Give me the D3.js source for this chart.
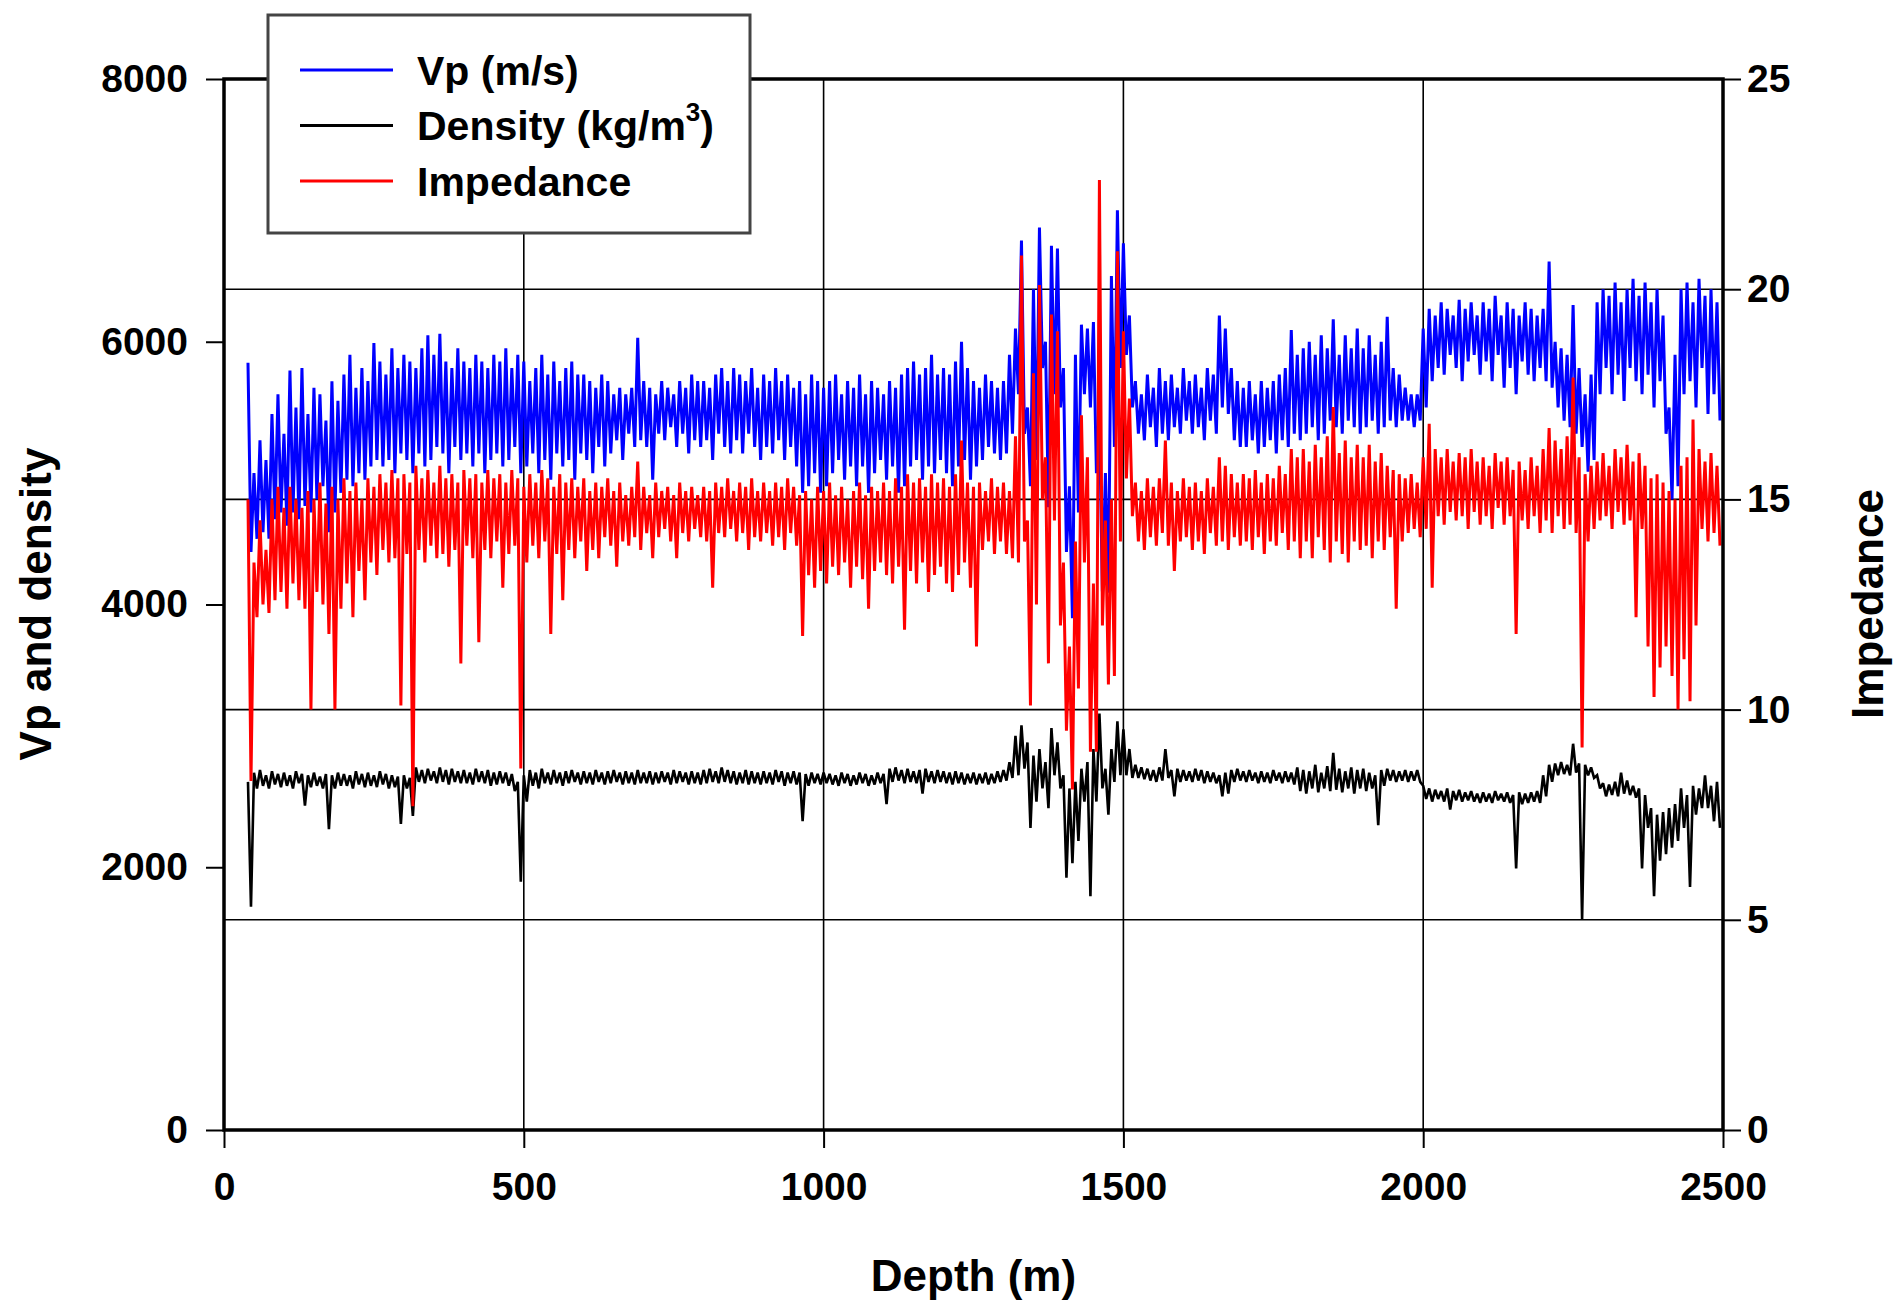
<!DOCTYPE html>
<html>
<head>
<meta charset="utf-8">
<script src="https://cdn.jsdelivr.net/npm/d3@7"></script>
<style>
  body { margin: 0; background: #fff; }
  svg { display: block; font-family: "Liberation Sans", Arial, sans-serif; font-weight: bold; }
</style>
</head>
<body>
<svg id="chart" width="1896" height="1306"></svg>
<script>
const binWidth = 10;
const binDepths = d3.range(40, 2500, binWidth);

const vpHigh = [
  5840,5000,5250,5100,5450,5600,
  5300,5780,5500,5800,5450,5650,5600,5400,5700,5550,
  5750,5900,5650,5800,5700,5990,5850,5750,5950,5800,
  5900,5850,5800,5950,6050,5900,6060,5850,5800,5950,
  5850,5800,5900,5850,5800,5900,5850,5950,5800,5900,
  5850,5700,5800,5900,5750,5850,5700,5800,5850,5750,
  5750,5700,5650,5750,5700,5600,5650,5600,5650,6030,
  5700,5650,5600,5700,5650,5600,5700,5650,5750,5700,
  5700,5650,5750,5800,5700,5800,5750,5700,5800,5650,
  5750,5700,5800,5700,5750,5650,5700,5600,5750,5700,
  5650,5700,5750,5600,5700,5650,5750,5600,5700,5650,
  5600,5700,5650,5750,5800,5850,5750,5800,5900,5750,
  5800,5750,5850,6000,5800,5700,5650,5750,5700,5650,
  5700,5900,6100,6770,5500,6400,6870,6000,6730,6710,
  5800,4900,5900,6130,6100,6150,5400,5000,6500,7000,
  6750,6200,5700,5600,5750,5650,5800,5700,5750,5650,
  5800,5700,5750,5650,5800,5750,6200,6100,5800,5700,
  5650,5700,5600,5700,5650,5700,5750,5800,6090,5900,
  5950,6000,5900,6050,5950,6170,5900,6050,5950,6100,
  5950,6050,5900,6000,6190,5800,5750,5650,5600,5600,
  6100,6250,6200,6300,6250,6200,6320,6250,6300,6200,
  6300,6250,6350,6200,6300,6250,6200,6300,6250,6200,
  6250,6610,6000,5950,5900,6280,5800,5600,5750,6300,
  6400,6350,6450,6300,6400,6480,6350,6450,6300,6400,
  6200,5500,5900,6400,6450,6300,6480,6350,6400,6300
];
const vpLow = [
  4400,4500,4550,4500,4650,4700,
  4600,4700,4650,4750,4700,4800,4900,4550,4700,4850,
  4950,4900,5000,4950,5050,5100,5050,5100,5000,5150,
  5100,5000,5150,5050,5100,5200,5150,5000,5200,5100,
  5150,5050,5150,5000,5100,5150,5050,5100,5200,5000,
  5050,5150,5000,5100,4950,5150,5050,5100,4950,5150,
  5100,5000,5200,5050,5150,5250,5100,5300,5200,5250,
  5200,4950,5300,5250,5350,5200,5300,5150,5250,5200,
  5250,5100,5300,5200,5150,5250,5150,5300,5200,5100,
  5200,5150,5250,5100,5200,5050,4850,4900,5000,4850,
  4900,5000,5100,4950,5050,4900,5050,4850,5000,5100,
  4950,5050,4850,4900,5050,5100,4950,5050,5000,5100,
  5000,4900,5050,5100,4950,5050,5100,5200,5150,5100,
  5150,5300,5600,5300,4900,5100,5800,4740,5600,5500,
  4400,3895,4700,5600,5500,5000,4100,4090,5200,5800,
  5900,5500,5300,5250,5350,5200,5300,5250,5350,5300,
  5400,5300,5350,5250,5400,5300,5500,5450,5250,5200,
  5200,5250,5150,5200,5250,5150,5250,5200,5300,5250,
  5300,5350,5250,5300,5400,5350,5300,5400,5350,5300,
  5350,5400,5300,5350,5400,5350,5400,5400,5350,5400,
  5500,5700,5800,5750,5900,5800,5700,5850,5900,5750,
  5850,5700,5900,5650,5800,5600,5850,5750,5700,5800,
  5700,5650,5500,5400,5350,5300,5200,5010,5100,5600,
  5800,5600,5750,5550,5800,5700,5600,5750,5500,5700,
  5300,4800,4900,5600,5700,5500,5800,5450,5600,5400
];

const densityHigh = [
  2650,2720,2740,2700,2730,2710,
  2720,2700,2730,2710,2700,2720,2690,2710,2700,2720,
  2710,2700,2730,2710,2720,2700,2730,2710,2700,2690,
  2700,2680,2760,2740,2750,2730,2760,2740,2750,2730,
  2740,2720,2750,2730,2740,2720,2730,2720,2710,2650,
  2700,2740,2720,2750,2720,2740,2720,2730,2740,2720,
  2730,2720,2740,2720,2730,2740,2720,2730,2720,2740,
  2720,2730,2720,2730,2720,2740,2730,2720,2730,2720,
  2740,2750,2730,2760,2740,2730,2720,2740,2730,2720,
  2730,2720,2740,2730,2720,2730,2720,2710,2720,2710,
  2720,2710,2700,2720,2710,2700,2720,2710,2700,2720,
  2710,2750,2760,2740,2750,2730,2740,2750,2730,2740,
  2730,2720,2730,2720,2710,2720,2710,2720,2710,2730,
  2740,2800,3000,3080,2950,2850,2900,2800,3060,2950,
  2700,2600,2650,2750,2800,2900,3170,2750,2900,3110,
  3050,2900,2780,2760,2750,2740,2760,2900,2740,2750,
  2740,2730,2750,2740,2730,2720,2700,2720,2740,2750,
  2730,2740,2720,2730,2720,2740,2720,2730,2720,2760,
  2740,2730,2780,2720,2770,2870,2750,2730,2760,2740,
  2750,2720,2700,2740,2750,2740,2730,2740,2730,2740,
  2620,2600,2590,2580,2600,2580,2590,2570,2580,2560,
  2570,2560,2580,2560,2570,2550,2570,2560,2570,2580,
  2700,2780,2790,2800,2780,2940,2790,2780,2760,2700,
  2640,2630,2650,2720,2660,2620,2600,2550,2450,2400,
  2420,2450,2480,2600,2550,2620,2600,2700,2620,2650
];
const densityLow = [
  1700,2600,2620,2600,2630,2610,
  2620,2600,2640,2470,2610,2620,2600,2290,2600,2620,
  2620,2600,2630,2610,2620,2610,2630,2600,2610,2330,
  2600,2390,2650,2640,2660,2640,2650,2630,2650,2640,
  2640,2630,2650,2640,2620,2630,2640,2620,2580,1890,
  2500,2620,2600,2640,2630,2640,2620,2640,2650,2630,
  2640,2630,2650,2630,2640,2650,2630,2640,2630,2640,
  2640,2630,2640,2650,2630,2640,2650,2630,2640,2630,
  2640,2650,2640,2650,2640,2630,2640,2630,2640,2630,
  2640,2630,2650,2620,2640,2630,2350,2620,2640,2630,
  2640,2630,2620,2640,2620,2630,2640,2620,2630,2640,
  2480,2650,2660,2640,2650,2640,2560,2650,2640,2650,
  2640,2630,2640,2630,2640,2630,2640,2630,2640,2650,
  2660,2680,2700,2750,2300,2500,2600,2450,2700,2600,
  1920,2030,2200,2500,1780,2500,2600,2400,2650,2700,
  2700,2680,2680,2670,2660,2650,2660,2680,2540,2650,
  2660,2650,2660,2640,2650,2640,2540,2560,2650,2660,
  2650,2660,2640,2650,2640,2660,2640,2650,2630,2580,
  2560,2600,2570,2600,2580,2590,2570,2600,2560,2600,
  2580,2600,2320,2620,2660,2650,2660,2650,2660,2650,
  2520,2500,2520,2500,2440,2510,2500,2510,2500,2490,
  2500,2490,2510,2500,2490,1990,2480,2490,2500,2490,
  2540,2650,2700,2710,2700,2720,1600,2700,2680,2600,
  2540,2550,2540,2560,2550,2530,1990,2300,1780,2050,
  2100,2150,2200,2300,1850,2400,2450,2450,2350,2300
];

const impedanceHigh = [
  15.0,13.5,14.5,13.8,15.0,15.3,
  14.8,15.3,15.0,14.8,15.2,15.0,15.4,14.9,15.3,15.0,
  15.5,15.2,15.4,15.0,15.5,15.3,15.6,15.4,15.7,15.5,
  15.6,15.4,15.8,15.5,15.7,15.4,15.8,15.5,15.6,15.4,
  15.7,15.5,15.6,15.4,15.7,15.5,15.6,15.4,15.7,15.5,
  15.3,15.6,15.4,15.7,15.5,15.3,15.6,15.4,15.5,15.3,
  15.5,15.2,15.4,15.3,15.5,15.2,15.4,15.1,15.3,15.9,
  15.3,15.1,15.4,15.2,15.3,15.1,15.4,15.2,15.3,15.1,
  15.3,15.2,15.4,15.3,15.5,15.2,15.4,15.3,15.5,15.2,
  15.4,15.2,15.4,15.3,15.5,15.3,15.1,15.2,15.0,15.3,
  15.2,15.4,15.1,15.3,15.0,15.2,15.4,15.1,15.3,15.2,
  15.4,15.2,15.5,15.3,15.6,15.4,15.5,15.3,15.6,15.4,
  15.5,15.3,15.6,16.4,15.4,15.3,15.4,15.2,15.5,15.3,
  15.4,15.2,16.5,20.8,14.5,18.0,20.1,16.0,19.4,19.0,
  13.5,11.5,14.0,17.0,16.0,13.0,22.6,14.5,15.0,20.9,
  19.0,17.4,15.4,15.2,15.5,15.3,15.5,16.4,15.4,15.2,
  15.5,15.3,15.4,15.2,15.5,15.3,16.0,15.8,15.6,15.4,
  15.6,15.5,15.7,15.4,15.6,15.5,15.8,15.6,16.2,16.0,
  16.2,15.9,16.3,16.0,16.5,17.2,16.1,16.4,16.0,16.3,
  16.0,16.3,15.9,16.1,15.8,15.7,15.6,15.5,15.6,15.4,
  16.0,16.8,16.2,16.0,16.2,15.9,16.1,16.0,16.2,15.9,
  16.0,15.8,16.1,15.9,16.0,15.7,15.9,15.7,16.0,15.8,
  16.2,16.7,16.4,16.2,16.5,17.9,16.0,15.6,15.8,15.9,
  16.1,15.8,16.2,16.0,16.3,15.9,16.1,15.8,15.5,15.6,
  15.4,15.2,15.0,15.8,16.0,16.9,16.2,15.9,16.1,15.8
];
const impedanceLow = [
  8.3,12.2,12.5,12.3,12.6,12.8,
  12.4,13.0,12.6,12.4,10.0,12.8,12.5,11.8,10.0,12.4,
  13.0,12.2,13.3,12.6,13.5,13.2,13.8,13.5,13.6,10.1,
  13.7,7.7,13.8,13.5,13.9,13.6,13.7,13.4,13.8,11.1,
  13.9,13.6,11.6,13.8,13.6,14.0,12.9,13.7,13.9,8.6,
  13.5,13.9,13.6,14.0,11.8,13.7,12.6,13.8,13.6,14.0,
  13.3,13.8,13.6,14.1,13.9,13.4,14.0,13.9,14.1,13.8,
  14.2,13.6,14.1,14.3,14.0,13.6,14.2,14.0,14.3,14.1,
  14.0,12.9,14.2,14.1,14.3,14.0,14.2,13.8,14.1,14.0,
  14.2,13.9,14.1,13.8,14.2,13.9,11.75,13.2,12.9,13.3,
  13.0,13.4,13.2,13.5,12.9,13.4,13.1,12.4,13.3,13.5,
  13.2,13.0,13.4,11.9,13.3,13.0,13.5,12.8,13.2,13.4,
  13.0,12.8,13.2,13.5,12.9,11.5,13.8,14.0,13.7,14.0,
  13.7,13.6,13.5,14.0,10.1,12.5,15.0,11.1,14.5,12.0,
  9.5,8.1,10.5,13.5,9.0,9.0,12.0,10.6,10.8,14.0,
  15.5,14.6,14.0,13.8,14.1,13.9,14.2,13.9,13.3,14.0,
  14.1,13.8,14.0,13.7,14.2,13.9,14.0,13.8,14.1,13.9,
  14.0,13.8,14.1,13.7,14.0,13.9,14.2,13.8,14.0,13.6,
  14.0,13.6,14.1,13.8,13.5,14.0,13.7,13.5,14.0,13.8,
  13.9,13.6,14.0,13.8,14.1,12.4,14.0,14.2,14.3,14.1,
  14.3,12.9,14.6,14.4,14.7,14.5,14.6,14.3,14.7,14.4,
  14.6,14.3,14.8,14.4,14.6,11.8,14.5,14.3,14.6,14.2,
  14.5,14.2,14.6,14.3,14.4,14.2,9.1,14.0,14.3,14.5,
  14.6,14.3,14.7,14.4,14.5,12.2,14.3,11.5,10.3,11.0,
  11.5,10.8,10.0,11.2,10.2,12.0,14.3,14.0,14.2,13.9
];

const depthTicks = [0, 500, 1000, 1500, 2000, 2500];
const leftTicks = [0, 2000, 4000, 6000, 8000];
const rightTicks = [0, 5, 10, 15, 20, 25];

const legendItems = [
  { label: 'Vp (m/s)', color: '#0000ff' },
  { label: 'Density (kg/m', sup: '3', tail: ')', color: '#000000' },
  { label: 'Impedance', color: '#ff0000' }
];

// ========= Setup ========= //
const svg = d3.select('#chart');
const plot = { left: 224, right: 1723, top: 79, bottom: 1130 };

const x = d3.scaleLinear().domain([0, 2500]).range([plot.left, plot.right]);
const yLeft = d3.scaleLinear().domain([0, 8000]).range([plot.bottom, plot.top]);
const yRight = d3.scaleLinear().domain([0, 25]).range([plot.bottom, plot.top]);

// ========= Grid ========= //
const grid = svg.append('g').attr('class', 'grid')
  .attr('stroke', '#000').attr('stroke-width', 1.6);

grid.selectAll('.hgrid')
  .data(rightTicks.slice(1, -1))
  .join('line')
    .attr('x1', plot.left).attr('x2', plot.right)
    .attr('y1', d => yRight(d)).attr('y2', d => yRight(d));

grid.selectAll('.vgrid')
  .data(depthTicks.slice(1, -1))
  .join('line')
    .attr('x1', d => x(d)).attr('x2', d => x(d))
    .attr('y1', plot.top).attr('y2', plot.bottom);

// ========= Logs ========= //
const zigzag = (hi, lo) =>
  binDepths.flatMap((d, i) => [[d, hi[i]], [d + binWidth / 2, lo[i]]]);

svg.append('clipPath').attr('id', 'clip')
  .append('rect')
    .attr('x', plot.left).attr('y', plot.top)
    .attr('width', plot.right - plot.left).attr('height', plot.bottom - plot.top);

const logs = svg.append('g').attr('clip-path', 'url(#clip)')
  .attr('fill', 'none').attr('stroke-linejoin', 'miter').attr('stroke-miterlimit', 2);

const lineLeft = d3.line().x(d => x(d[0])).y(d => yLeft(d[1]));
const lineRight = d3.line().x(d => x(d[0])).y(d => yRight(d[1]));

logs.append('path')
  .attr('d', lineLeft(zigzag(vpHigh, vpLow)))
  .attr('stroke', '#0000ff').attr('stroke-width', 3);

logs.append('path')
  .attr('d', lineLeft(zigzag(densityHigh, densityLow)))
  .attr('stroke', '#000000').attr('stroke-width', 2.6);

logs.append('path')
  .attr('d', lineRight(zigzag(impedanceHigh, impedanceLow)))
  .attr('stroke', '#ff0000').attr('stroke-width', 3);

// ========= Frame and axes ========= //
svg.append('rect')
  .attr('x', plot.left).attr('y', plot.top)
  .attr('width', plot.right - plot.left).attr('height', plot.bottom - plot.top)
  .attr('fill', 'none').attr('stroke', '#000').attr('stroke-width', 3.5);

function styleAxis(g) {
  g.select('.domain').remove();
  g.selectAll('line').attr('stroke', '#000').attr('stroke-width', 2);
  g.selectAll('text')
    .attr('fill', '#000')
    .attr('font-size', '39px')
    .attr('font-weight', 'bold')
    .attr('font-family', '"Liberation Sans", Arial, sans-serif');
}

svg.append('g')
  .attr('transform', `translate(0,${plot.bottom})`)
  .call(d3.axisBottom(x).tickValues(depthTicks).tickSize(18).tickPadding(24).tickFormat(d3.format('d')))
  .call(styleAxis);

svg.append('g')
  .attr('transform', `translate(${plot.left},0)`)
  .call(d3.axisLeft(yLeft).tickValues(leftTicks).tickSize(18).tickPadding(18).tickFormat(d3.format('d')))
  .call(styleAxis);

svg.append('g')
  .attr('transform', `translate(${plot.right},0)`)
  .call(d3.axisRight(yRight).tickValues(rightTicks).tickSize(18).tickPadding(6).tickFormat(d3.format('d')))
  .call(styleAxis);

// ========= Axis titles ========= //
const titles = svg.append('g')
  .attr('font-size', '44px').attr('font-weight', 'bold').attr('text-anchor', 'middle');

titles.append('text')
  .attr('x', (plot.left + plot.right) / 2)
  .attr('y', 1291)
  .text('Depth (m)');

titles.append('text')
  .attr('transform', 'translate(36,604) rotate(-90)')
  .attr('dy', '0.35em')
  .text('Vp and density');

titles.append('text')
  .attr('transform', 'translate(1868,604) rotate(-90)')
  .attr('dy', '0.35em')
  .text('Impedance');

// ========= Legend ========= //
const legend = svg.append('g').attr('class', 'legend');

legend.append('rect')
  .attr('x', 268).attr('y', 15)
  .attr('width', 482).attr('height', 218)
  .attr('fill', '#fff').attr('stroke', '#444').attr('stroke-width', 3);

const rows = legend.selectAll('.legend-row')
  .data(legendItems)
  .join('g')
    .attr('class', 'legend-row')
    .attr('transform', (d, i) => `translate(0,${70 + i * 55.5})`);

rows.append('line')
  .attr('x1', 300).attr('x2', 393)
  .attr('stroke', d => d.color).attr('stroke-width', 3);

const labels = rows.append('text')
  .attr('x', 417).attr('dy', '0.36em')
  .attr('font-size', '41px').attr('font-weight', 'bold');

labels.append('tspan').text(d => d.label);
labels.filter(d => d.sup).append('tspan')
  .attr('font-size', '26px').attr('dy', '-0.75em').text(d => d.sup);
labels.filter(d => d.sup).append('tspan')
  .attr('dy', '0.47em').text(d => d.tail);
</script>
</body>
</html>
